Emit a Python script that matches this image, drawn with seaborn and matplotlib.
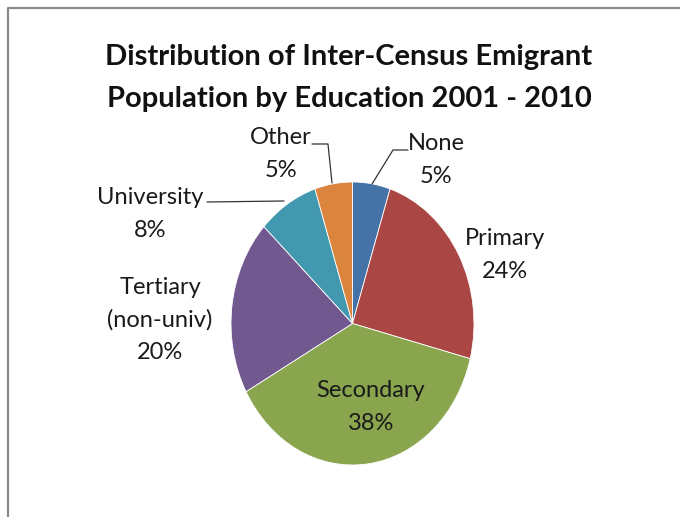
import matplotlib
matplotlib.use("Agg")
import matplotlib.pyplot as plt
from matplotlib.lines import Line2D
import seaborn as sns

# Education categories and their shares of the emigrant population (%)
categories = ["None", "Primary", "Secondary", "Tertiary\n(non-univ)", "University", "Other"]
shares = [5, 24, 38, 20, 8, 5]
slice_colors = ["#4572A7", "#AA4643", "#89A54E", "#71588F", "#4198AF", "#DB843D"]

title_text = "Distribution of Inter-Census Emigrant\nPopulation by Education 2001 - 2010"

sns.set_theme(style="white")
plt.rcParams["font.family"] = ["Lato", "DejaVu Sans"]

W, H = 680, 517
fig = plt.figure(figsize=(W / 100, H / 100), dpi=100)
fig.patch.set_facecolor("white")


def fx(px):
    return px / W


def fy(py):
    return 1 - py / H


# Pie sits in a slightly tall box, so it renders as an upright ellipse
left, right, top, bottom = 231, 474, 182, 465
ax = fig.add_axes([fx(left), fy(bottom), (right - left) / W, (bottom - top) / H])
palette = sns.color_palette(slice_colors)
ax.pie(shares, colors=palette, startangle=90, counterclock=False,
       wedgeprops=dict(edgecolor="white", linewidth=0.6))
ax.set_aspect("auto")
ax.set_xlim(-1, 1)
ax.set_ylim(-1, 1)
ax.axis("off")

# Data labels: category name and percentage
label_pos = {
    "None": (436, 160),
    "Primary": (505, 255),
    "Secondary": (371, 407),
    "Tertiary\n(non-univ)": (160, 320),
    "University": (150, 214),
    "Other": (281, 154),
}
for name, val in zip(categories, shares):
    x, y = label_pos[name]
    fig.text(fx(x), fy(y), f"{name}\n{val}%", ha="center", va="center",
             fontsize=17, color="#1a1a1a", linespacing=1.65)

# Leader lines from the small slices to their labels
lc = "#333333"
leaders = [
    [(312, 144), (328, 144), (332, 183)],   # Other
    [(408, 150), (393, 150), (372, 184)],   # None
    [(207, 202), (284, 201)],               # University
]
for pts in leaders:
    xs = [fx(p[0]) for p in pts]
    ys = [fy(p[1]) for p in pts]
    fig.add_artist(Line2D(xs, ys, transform=fig.transFigure, color=lc, lw=0.9))

# Title
fig.text(fx(349), fy(78), title_text, ha="center", va="center",
         fontsize=21, fontweight="bold", color="#111111", linespacing=1.72)

# Chart area border (top and left edges visible)
fig.add_artist(Line2D([fx(7.5), fx(7.5), fx(W)], [fy(H), fy(8), fy(8)],
                      transform=fig.transFigure, color="#8a8a8a", lw=1.6))

fig.savefig("out.png", dpi=100, facecolor="white")
